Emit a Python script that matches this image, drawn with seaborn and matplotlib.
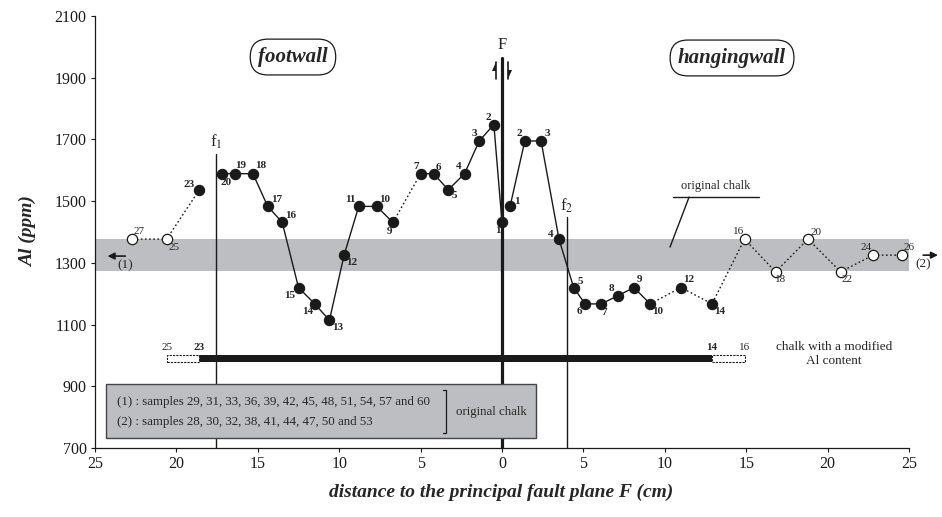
import numpy as np
import pandas as pd
import matplotlib
matplotlib.use("Agg")
import matplotlib.pyplot as plt
import seaborn as sns

# ---------------- data ----------------
fw_ids = [27, 25, 23, 20, 19, 18, 17, 16, 15, 14, 13, 12, 11, 10, 9, 7, 6, 5, 4, 3, 2, 1]
fw_dist = [22.7, 20.6, 18.6, 17.2, 16.4, 15.3, 14.4, 13.5, 12.5, 11.5, 10.6, 9.7,
           8.8, 7.7, 6.7, 5.0, 4.2, 3.3, 2.3, 1.4, 0.5, 0.0]
fw_al = [1377, 1377, 1536, 1589, 1589, 1589, 1484, 1431, 1220, 1167, 1114, 1325,
         1483, 1483, 1431, 1589, 1589, 1537, 1589, 1695, 1748, 1431]
fw_open = [True, True] + [False] * 20
# connection to next point: 'dot', 'solid', or None
fw_links = ['dot', 'dot', None] + ['solid'] * 11 + ['dot'] + ['solid'] * 6

hw_ids = [1, 2, 3, 4, 5, 6, 7, 8, 9, 10, 12, 14, 16, 18, 20, 22, 24, 26]
hw_dist = [0.5, 1.4, 2.4, 3.5, 4.4, 5.1, 6.1, 7.1, 8.1, 9.1, 11.0, 12.9, 14.9,
           16.8, 18.8, 20.8, 22.8, 24.6]
hw_al = [1484, 1695, 1695, 1377, 1220, 1167, 1167, 1193, 1220, 1167, 1220, 1167,
         1377, 1271, 1377, 1271, 1325, 1325]
hw_open = [False] * 12 + [True] * 6
hw_links = ['solid'] * 9 + ['dot'] * 8

band_al = [1272, 1378]              # original chalk range
modified_from = [-18.6, 12.9]      # samples 23 (footwall) .. 14 (hangingwall)
modified_ext = [-20.6, 14.9]       # samples 25 .. 16
fault_pos = {'F': 0.0, 'f1': -17.55, 'f2': 3.99}

xticks = list(range(-25, 30, 5))
xticklabels = [str(abs(t)) for t in xticks]
yticks = list(range(700, 2101, 200))

legend1 = "(1) : samples 29, 31, 33, 36, 39, 42, 45, 48, 51, 54, 57 and 60"
legend2 = "(2) : samples 28, 30, 32, 38, 41, 44, 47, 50 and 53"

# label offsets (pixels)
fw_off = [(7, 8), (7, -8), (-10, 6), (4, -9), (6, 8), (8, 8), (9, 7), (8, 7), (-9, -8),
          (-7, -8), (8, -7), (8, -7), (-8, 7), (8, 7), (-3, -9), (-4, 7), (5, 6),
          (6, -6), (-6, 7), (-5, 7), (-6, 7), (-4, -8)]
hw_off = [(7, 5), (-5, 7), (6, 7), (-8, 5), (7, 6), (-6, -8), (3, -9), (-6, 7), (6, 8),
          (7, -8), (8, 8), (8, -8), (-6, 8), (5, -8), (8, 7), (6, -8), (-7, 8), (7, 8)]

# ---------------- style ----------------
sns.set_theme(style="ticks")
plt.rcParams['font.family'] = ['Liberation Serif', 'DejaVu Serif']
plt.rcParams['mathtext.fontset'] = 'stix'

fig = plt.figure(figsize=(9.42, 5.17), dpi=100)
ax = fig.add_axes([95 / 942, 1 - 448 / 517, 814 / 942, 432 / 517])
ax.set_xlim(-25, 25)
ax.set_ylim(700, 2100)

pxx = 814 / 50.0      # px per cm
pxy = 432 / 1400.0    # px per ppm

band_col = '#bdbec2'
ax.axhspan(band_al[0], band_al[1], color=band_col, zorder=0, lw=0)

# vertical fault lines
ax.plot([fault_pos['F']] * 2, [700, 1964], color='k', lw=2.3, zorder=2)
ax.plot([fault_pos['f1']] * 2, [700, 1653], color='k', lw=1.0, zorder=2)
ax.plot([fault_pos['f2']] * 2, [700, 1450], color='k', lw=1.0, zorder=2)
ax.text(fault_pos['F'], 2006, 'F', ha='center', va='center', fontsize=12)
ax.text(fault_pos['f1'], 1692, r'f$_1$', ha='center', va='center', fontsize=12)
ax.text(fault_pos['f2'], 1484, r'f$_2$', ha='center', va='center', fontsize=12)

# half arrows at F
def harpoon(x, y0, y1, side):
    ax.plot([x, x], [y0, y1], color='k', lw=1.2, zorder=3)
    hl = 9 / pxy
    hw = 4 / pxx * side
    d = np.sign(y1 - y0)
    ax.fill([x, x, x + hw], [y1, y1 - d * hl, y1 - d * hl], color='k', lw=0, zorder=3)

harpoon(-0.37, 1896, 1952, -1)
harpoon(0.37, 1952, 1896, 1)

# modified chalk bar
bar_h = 22
ax.add_patch(plt.Rectangle((modified_from[0], 989 - bar_h / 2),
                           modified_from[1] - modified_from[0], bar_h,
                           facecolor='k', edgecolor='k', lw=0, zorder=4))
for a, b in [(modified_ext[0], modified_from[0]), (modified_from[1], modified_ext[1])]:
    ax.add_patch(plt.Rectangle((a, 989 - bar_h / 2), b - a, bar_h, facecolor='white',
                               edgecolor='k', lw=0.8, ls=(0, (2, 1)), zorder=4))
ax.text(modified_ext[0], 1027, '25', ha='center', va='center', fontsize=8)
ax.text(modified_from[0], 1027, '23', ha='center', va='center', fontsize=8, fontweight='bold')
ax.text(modified_from[1], 1027, '14', ha='center', va='center', fontsize=8, fontweight='bold')
ax.text(modified_ext[1], 1027, '16', ha='center', va='center', fontsize=8)
ax.text(20.39, 1005, 'chalk with a modified\nAl content', ha='center', va='center',
        fontsize=9.5, linespacing=1.2)

# data series
def draw_series(ids, dist, al, opn, links, offs, sign):
    df = pd.DataFrame({'id': ids, 'x': [sign * d for d in dist], 'al': al, 'open': opn})
    i = 0
    n = len(df)
    while i < n - 1:
        st = links[i]
        if st is None:
            i += 1
            continue
        j = i
        while j < n - 1 and links[j] == st:
            j += 1
        sub = df.iloc[i:j + 1]
        sns.lineplot(data=sub, x='x', y='al', sort=False, estimator=None, ax=ax,
                     color='k', lw=1.0,
                     linestyle='-' if st == 'solid' else (0, (1.2, 1.8)), zorder=5)
        i = j
    filled = df[~df['open']]
    hollow = df[df['open']]
    sns.scatterplot(data=filled, x='x', y='al', ax=ax, color='k', edgecolor='k',
                    s=55, linewidth=0.8, zorder=6, legend=False)
    sns.scatterplot(data=hollow, x='x', y='al', ax=ax, color='white', edgecolor='k',
                    s=55, linewidth=0.9, zorder=6, legend=False)
    for k, row in df.iterrows():
        ox, oy = offs[k]
        ax.annotate(str(row['id']), (row['x'], row['al']), xytext=(ox, oy),
                    textcoords='offset pixels', ha='center', va='center', fontsize=8,
                    fontweight='normal' if row['open'] else 'bold', zorder=7)

draw_series(fw_ids, fw_dist, fw_al, fw_open, fw_links, fw_off, -1)
draw_series(hw_ids, hw_dist, hw_al, hw_open, hw_links, hw_off, 1)

# (1) and (2) arrows
ax.annotate('', xy=(-24.4, 1322), xytext=(-22.97, 1322),
            arrowprops=dict(arrowstyle='-|>', color='k', lw=1.2, mutation_scale=10), zorder=5)
ax.text(-23.16, 1293, '(1)', ha='center', va='center', fontsize=9.5)
ax.annotate('', xy=(26.95, 1325), xytext=(25.7, 1325), annotation_clip=False,
            arrowprops=dict(arrowstyle='-|>', color='k', lw=1.2, mutation_scale=10), zorder=5)
ax.text(25.86, 1296, '(2)', ha='center', va='center', fontsize=9.5, clip_on=False)

# original chalk callout
ax.text(13.14, 1549, 'original chalk', ha='center', va='center', fontsize=9)
ax.plot([10.5, 15.79], [1513, 1513], color='k', lw=1.0)
ax.plot([11.49, 10.32], [1513, 1351], color='k', lw=1.0)

# footwall / hangingwall labels
for x, y, t in [(-12.84, 1967, 'footwall'), (14.13, 1964, 'hangingwall')]:
    ax.text(x, y, t, ha='center', va='center', fontsize=15, fontweight='bold',
            fontstyle='italic',
            bbox=dict(boxstyle='round,pad=0.38,rounding_size=0.85', facecolor='white',
                      edgecolor='k', lw=0.9))

# legend box
ax.add_patch(plt.Rectangle((-24.32, 732), 26.41, 175, facecolor=band_col,
                           edgecolor='#444444', lw=1.0, zorder=8))
ax.text(-23.67, 850, legend1, ha='left', va='center', fontsize=9.3, zorder=9)
ax.text(-23.67, 784, legend2, ha='left', va='center', fontsize=9.3, zorder=9)
ax.plot([-3.62, -3.44, -3.44, -3.62], [888, 888, 749, 749], color='k', lw=0.9, zorder=9)
ax.text(-2.83, 817, 'original chalk', ha='left', va='center', fontsize=9.3, zorder=9)

# axes
ax.set_xticks(xticks)
ax.set_xticklabels(xticklabels)
ax.set_yticks(yticks)
ax.tick_params(axis='both', labelsize=11.5, direction='out', length=3, width=0.8,
               colors='k', pad=3)
for s in ['top', 'right']:
    ax.spines[s].set_visible(False)
for s in ['left', 'bottom']:
    ax.spines[s].set_linewidth(0.9)
    ax.spines[s].set_color('k')

ax.set_xlabel('distance to the principal fault plane F (cm)', fontsize=14,
              fontweight='bold', fontstyle='italic')
ax.set_ylabel('Al (ppm)', fontsize=14, fontweight='bold', fontstyle='italic')
ax.xaxis.set_label_coords(0.499, -0.102)
ax.xaxis.label.set_va('center')
ax.yaxis.set_label_coords((28 - 95) / 814, 0.5)
ax.yaxis.label.set_va('center')

fig.savefig('out.png', dpi=100)
